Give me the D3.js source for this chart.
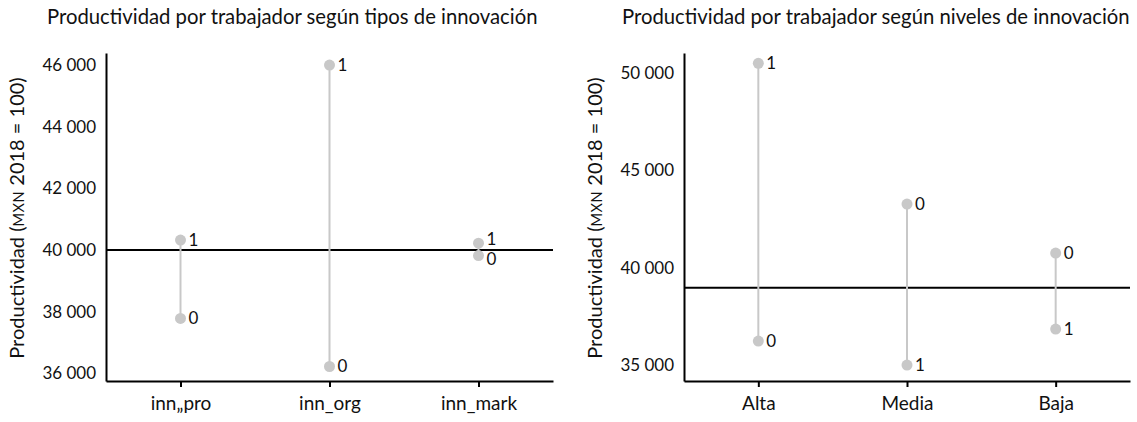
<!DOCTYPE html>
<html><head><meta charset="utf-8">
<script src="https://cdn.jsdelivr.net/npm/d3@7"></script>
<style>
body{margin:0;background:#fff;}
text{font-family:Lato,"Noto Sans",sans-serif;fill:#111;}
</style></head>
<body><svg id="c" width="1137" height="422"></svg>
<script>
// Panel 1: tipos de innovación
const catsTipos = ["inn\u201Epro", "inn_org", "inn_mark"];
const tipos1 = [40320, 46000, 40220];
const tipos0 = [37780, 36220, 39820];
const refTipos = 40000;
const ticksTipos = [36000, 38000, 40000, 42000, 44000, 46000];

// Panel 2: niveles de innovación
const catsNiveles = ["Alta", "Media", "Baja"];
const niveles1 = [50500, 35000, 36850];
const niveles0 = [36230, 43270, 40750];
const refNiveles = 38970;
const ticksNiveles = [35000, 40000, 45000, 50000];

const titles = ["Productividad por trabajador según tipos de innovación",
                "Productividad por trabajador según niveles de innovación"];

const svg = d3.select("#c");
const fmt = v => d3.format(",")(v).replace(/,/g, "\u2005");

function panel(cfg){
  const g = svg.append("g");
  const x = d3.scalePoint().domain(cfg.cats).range([cfg.x0, cfg.x1]).padding(0.5);
  const y = d3.scaleLinear().domain(cfg.domain).range([381, 53]);

  const t = g.append("text").attr("x", cfg.titleX).attr("y", 24)
    .style("font-size","20.3px").text(cfg.title);
  const maxW = 1130 - cfg.titleX;
  if (t.node().getComputedTextLength() > maxW) t.attr("textLength", maxW).attr("lengthAdjust","spacingAndGlyphs");

  // y-axis label
  const yl = g.append("text")
    .attr("transform", `translate(${cfg.x0-82},${218}) rotate(-90)`)
    .attr("text-anchor","middle").style("font-size","20px");
  yl.append("tspan").text("Productividad (");
  yl.append("tspan").style("font-size","14.5px").style("letter-spacing","0.6px").text("MXN");
  yl.append("tspan").text(" 2018 = 100)");

  // axes
  const ya = g.append("g").attr("transform",`translate(${cfg.x0},0)`)
    .call(d3.axisLeft(y).tickValues(cfg.ticks).tickFormat(fmt).tickSize(0).tickPadding(10));
  ya.select(".domain").attr("stroke","#000").attr("stroke-width",2);
  ya.selectAll("text").style("font-size","17px").style("font-family","Lato,'Noto Sans',sans-serif").attr("fill","#111");

  const xa = g.append("g").attr("transform",`translate(0,381)`)
    .call(d3.axisBottom(x).tickSize(6).tickSizeOuter(0).tickPadding(10));
  xa.select(".domain").attr("stroke","#000").attr("stroke-width",2);
  xa.selectAll(".tick line").attr("stroke","#000").attr("stroke-width",2);
  xa.selectAll("text").style("font-size","19px").style("font-family","Lato,'Noto Sans',sans-serif").attr("fill","#111");

  // reference line
  g.append("line").attr("x1", cfg.x0).attr("x2", cfg.x1)
    .attr("y1", y(cfg.ref)).attr("y2", y(cfg.ref))
    .attr("stroke","#000").attr("stroke-width",2);

  const data = cfg.cats.map((c,i)=>({c, v1:cfg.v1[i], v0:cfg.v0[i]}));
  g.selectAll("line.stem").data(data).join("line").attr("class","stem")
    .attr("x1", d=>x(d.c)).attr("x2", d=>x(d.c))
    .attr("y1", d=>y(d.v1)).attr("y2", d=>y(d.v0))
    .attr("stroke","#c8c8c8").attr("stroke-width",2);

  const pts = [];
  data.forEach(d=>{
    const close = Math.abs(y(d.v1)-y(d.v0)) < 20;
    const hi = d.v1 > d.v0 ? 1 : -1;
    pts.push({c:d.c, v:d.v1, lab:"1", nud: close ? -4*hi : 0});
    pts.push({c:d.c, v:d.v0, lab:"0", nud: close ? 4*hi : 0});
  });
  g.selectAll("circle.pt").data(pts).join("circle").attr("class","pt")
    .attr("cx", d=>x(d.c)).attr("cy", d=>y(d.v)).attr("r",5.5).attr("fill","#c8c8c8");
  g.selectAll("text.pl").data(pts).join("text").attr("class","pl")
    .attr("x", d=>x(d.c)+8).attr("y", d=>y(d.v)+d.nud).attr("dy","0.35em")
    .style("font-size","17px").text(d=>d.lab);
}

panel({cats:catsTipos, v1:tipos1, v0:tipos0, ref:refTipos, ticks:ticksTipos,
       domain:[35750, 46390], x0:106, x1:553, title:titles[0], titleX:47});
panel({cats:catsNiveles, v1:niveles1, v0:niveles0, ref:refNiveles, ticks:ticksNiveles,
       domain:[34180, 51030], x0:684, x1:1130, title:titles[1], titleX:622});
</script></body></html>
